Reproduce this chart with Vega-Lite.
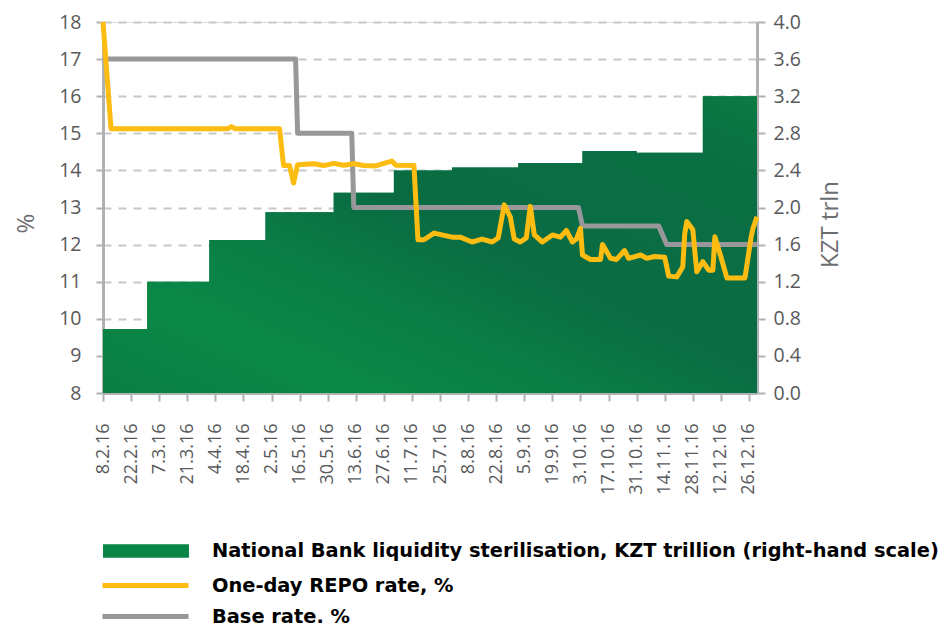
{
"$schema":"https://vega.github.io/schema/vega-lite/v6.json",
"width":654,"height":371,
"autosize":{"type":"none"},
"padding":{"left":103,"top":22,"right":184,"bottom":230},
"background":"white",
"datasets":{
"liq":[
{"date":"2016-02-08","kzt":0.69},{"date":"2016-03-01","kzt":1.20},{"date":"2016-04-01","kzt":1.65},{"date":"2016-04-29","kzt":1.95},{"date":"2016-06-02","kzt":2.16},{"date":"2016-07-02","kzt":2.40},{"date":"2016-07-31","kzt":2.43},{"date":"2016-09-02","kzt":2.48},{"date":"2016-10-04","kzt":2.61},{"date":"2016-10-31","kzt":2.59},{"date":"2016-12-03","kzt":3.20},{"date":"2016-12-30","kzt":3.20}],
"base":[
{"date":"2016-02-08","rate":17,"series":"Base rate, %"},{"date":"2016-05-14","rate":17,"series":"Base rate, %"},{"date":"2016-05-15","rate":15,"series":"Base rate, %"},{"date":"2016-06-11","rate":15,"series":"Base rate, %"},{"date":"2016-06-12","rate":13,"series":"Base rate, %"},{"date":"2016-10-02","rate":13,"series":"Base rate, %"},{"date":"2016-10-04","rate":12.5,"series":"Base rate, %"},{"date":"2016-11-11","rate":12.5,"series":"Base rate, %"},{"date":"2016-11-15","rate":12,"series":"Base rate, %"},{"date":"2016-12-30","rate":12,"series":"Base rate, %"}],
"repo":[
{"date":"2016-02-08","rate":18},{"date":"2016-02-12","rate":15.12},{"date":"2016-04-10","rate":15.12},{"date":"2016-04-12","rate":15.18},{"date":"2016-04-14","rate":15.12},{"date":"2016-05-06","rate":15.12},{"date":"2016-05-08","rate":14.13},{"date":"2016-05-11","rate":14.13},{"date":"2016-05-13","rate":13.66},{"date":"2016-05-15","rate":14.15},{"date":"2016-05-23","rate":14.18},{"date":"2016-05-28","rate":14.13},{"date":"2016-06-02","rate":14.19},{"date":"2016-06-07","rate":14.14},{"date":"2016-06-12","rate":14.18},{"date":"2016-06-17","rate":14.13},{"date":"2016-06-23","rate":14.12},{"date":"2016-06-27","rate":14.19},{"date":"2016-07-01","rate":14.25},{"date":"2016-07-03","rate":14.14},{"date":"2016-07-12","rate":14.13},{"date":"2016-07-14","rate":12.13},{"date":"2016-07-17","rate":12.13},{"date":"2016-07-22","rate":12.31},{"date":"2016-07-31","rate":12.2},{"date":"2016-08-04","rate":12.2},{"date":"2016-08-10","rate":12.07},{"date":"2016-08-15","rate":12.15},{"date":"2016-08-20","rate":12.07},{"date":"2016-08-23","rate":12.18},{"date":"2016-08-26","rate":13.07},{"date":"2016-08-29","rate":12.75},{"date":"2016-08-31","rate":12.15},{"date":"2016-09-03","rate":12.07},{"date":"2016-09-06","rate":12.18},{"date":"2016-09-08","rate":13.03},{"date":"2016-09-10","rate":12.26},{"date":"2016-09-14","rate":12.07},{"date":"2016-09-19","rate":12.26},{"date":"2016-09-23","rate":12.2},{"date":"2016-09-26","rate":12.38},{"date":"2016-09-29","rate":12.07},{"date":"2016-10-01","rate":12.15},{"date":"2016-10-03","rate":12.44},{"date":"2016-10-04","rate":11.72},{"date":"2016-10-08","rate":11.6},{"date":"2016-10-13","rate":11.6},{"date":"2016-10-14","rate":12.0},{"date":"2016-10-18","rate":11.63},{"date":"2016-10-21","rate":11.6},{"date":"2016-10-25","rate":11.84},{"date":"2016-10-27","rate":11.63},{"date":"2016-11-02","rate":11.72},{"date":"2016-11-05","rate":11.63},{"date":"2016-11-09","rate":11.68},{"date":"2016-11-14","rate":11.66},{"date":"2016-11-16","rate":11.15},{"date":"2016-11-20","rate":11.13},{"date":"2016-11-23","rate":11.4},{"date":"2016-11-24","rate":12.3},{"date":"2016-11-25","rate":12.62},{"date":"2016-11-28","rate":12.4},{"date":"2016-11-30","rate":11.27},{"date":"2016-12-03","rate":11.54},{"date":"2016-12-06","rate":11.31},{"date":"2016-12-08","rate":11.31},{"date":"2016-12-09","rate":12.21},{"date":"2016-12-12","rate":11.67},{"date":"2016-12-15","rate":11.1},{"date":"2016-12-24","rate":11.1},{"date":"2016-12-27","rate":12.18},{"date":"2016-12-28","rate":12.44},{"date":"2016-12-30","rate":12.75}]
},
"encoding":{
"x":{"field":"date","type":"temporal","scale":{"type":"utc","domain":[{"year":2016,"month":2,"date":8,"utc":true},{"year":2016,"month":12,"date":30,"utc":true}]},
"axis":{"title":null,"orient":"bottom","grid":false,"labelExpr":"utcFormat(datum.value, '%-d.%-m.%y')","labelAngle":-90,"labelAlign":"right","labelBaseline":"middle","labelFont":"Open Sans","labelFontSize":18,"labelColor":"#58595b","labelPadding":22,"labelOverlap":false,"labelFlush":false,"tickSize":8,"tickWidth":2,"tickColor":"#b0b1b3","domainColor":"#b0b1b3","domainWidth":3,
"values":[{"year":2016,"month":2,"date":8,"utc":true},{"year":2016,"month":2,"date":22,"utc":true},{"year":2016,"month":3,"date":7,"utc":true},{"year":2016,"month":3,"date":21,"utc":true},{"year":2016,"month":4,"date":4,"utc":true},{"year":2016,"month":4,"date":18,"utc":true},{"year":2016,"month":5,"date":2,"utc":true},{"year":2016,"month":5,"date":16,"utc":true},{"year":2016,"month":5,"date":30,"utc":true},{"year":2016,"month":6,"date":13,"utc":true},{"year":2016,"month":6,"date":27,"utc":true},{"year":2016,"month":7,"date":11,"utc":true},{"year":2016,"month":7,"date":25,"utc":true},{"year":2016,"month":8,"date":8,"utc":true},{"year":2016,"month":8,"date":22,"utc":true},{"year":2016,"month":9,"date":5,"utc":true},{"year":2016,"month":9,"date":19,"utc":true},{"year":2016,"month":10,"date":3,"utc":true},{"year":2016,"month":10,"date":17,"utc":true},{"year":2016,"month":10,"date":31,"utc":true},{"year":2016,"month":11,"date":14,"utc":true},{"year":2016,"month":11,"date":28,"utc":true},{"year":2016,"month":12,"date":12,"utc":true},{"year":2016,"month":12,"date":26,"utc":true}]}}
},
"layer":[
{"data":{"name":"liq"},"mark":{"type":"area","interpolate":"step-after"},
"encoding":{"y":{"field":"kzt","type":"quantitative","scale":{"domain":[0,4]},
"axis":{"orient":"right","title":"KZT trln","titleFont":"Open Sans","titleFontSize":24,"titleFontWeight":"normal","titleColor":"#6d6e71","titleAngle":-90,"titlePadding":42,"titleY":202,"values":[0,0.4,0.8,1.2,1.6,2.0,2.4,2.8,3.2,3.6,4.0],"format":".1f","grid":false,"labelFont":"Open Sans","labelFontSize":19.5,"labelColor":"#58595b","labelPadding":8,"tickSize":8,"tickWidth":2,"tickColor":"#b0b1b3","domainColor":"#b0b1b3","domainWidth":3}},
"fill":{"datum":"National Bank liquidity sterilisation, KZT trillion (right-hand scale)","scale":{"range":["#0a8548"]},
"legend":{"orient":"none","legendX":0,"legendY":486,"title":null,"padding":0,"symbolType":"M-1,-0.155H1V0.155H-1Z","symbolSize":7396,"symbolStrokeWidth":0,"symbolOpacity":1,"labelOffset":23,"labelFont":"DejaVu Sans","labelFontSize":19.4,"labelFontWeight":"bold","labelColor":"#000000","labelLimit":800}}}},
{"data":{"name":"liq"},"mark":{"type":"area","interpolate":"step-after","color":{"gradient":"linear","x1":0,"y1":1,"x2":1,"y2":0,"stops":[{"offset":0,"color":"#0a7e44"},{"offset":0.2,"color":"#0a8846"},{"offset":0.38,"color":"#0a7d45"},{"offset":0.55,"color":"#0a6b43"},{"offset":0.85,"color":"#0a6f43"},{"offset":0.94,"color":"#0a7543"},{"offset":1,"color":"#0b7c43"}]}},
"encoding":{"y":{"field":"kzt","type":"quantitative","scale":{"domain":[0,4]},"axis":null}}},
{"data":{"name":"base"},"mark":{"type":"line","strokeWidth":5,"strokeJoin":"round","clip":false},
"encoding":{"y":{"field":"rate","type":"quantitative","scale":{"domain":[8,18]},
"axis":{"orient":"left","title":"%","titleFont":"Open Sans","titleFontSize":24,"titleFontWeight":"normal","titleColor":"#6d6e71","titlePadding":20,"titleY":201,"values":[8,9,10,11,12,13,14,15,16,17,18],"grid":true,"gridColor":"#c8c8c8","gridDash":[8,7],"gridWidth":2,"labelFont":"Open Sans","labelFontSize":19.5,"labelColor":"#58595b","labelPadding":15,"tickSize":7,"tickWidth":2,"tickColor":"#b0b1b3","domainColor":"#b0b1b3","domainWidth":3}},
"stroke":{"field":"series","type":"nominal","scale":{"domain":["One-day REPO rate, %","Base rate, %"],"range":["#fdbc11","#98989a"]},
"legend":{"orient":"none","legendX":30,"legendY":551,"title":null,"padding":0,"symbolType":"M-4.3,0H4.3","symbolSize":400,"symbolStrokeWidth":5,"rowPadding":8,"labelOffset":54,"labelFont":"DejaVu Sans","labelFontSize":19.4,"labelFontWeight":"bold","labelColor":"#000000","labelLimit":800}}}},
{"data":{"name":"repo"},"transform":[{"calculate":"'One-day REPO rate, %'","as":"series"}],"mark":{"type":"line","strokeWidth":5,"strokeJoin":"round","clip":false},
"encoding":{"y":{"field":"rate","type":"quantitative","scale":{"domain":[8,18]},"axis":null},
"stroke":{"field":"series","type":"nominal","scale":{"domain":["One-day REPO rate, %","Base rate, %"],"range":["#fdbc11","#98989a"]}}}}
],
"resolve":{"scale":{"y":"independent"}}
}
